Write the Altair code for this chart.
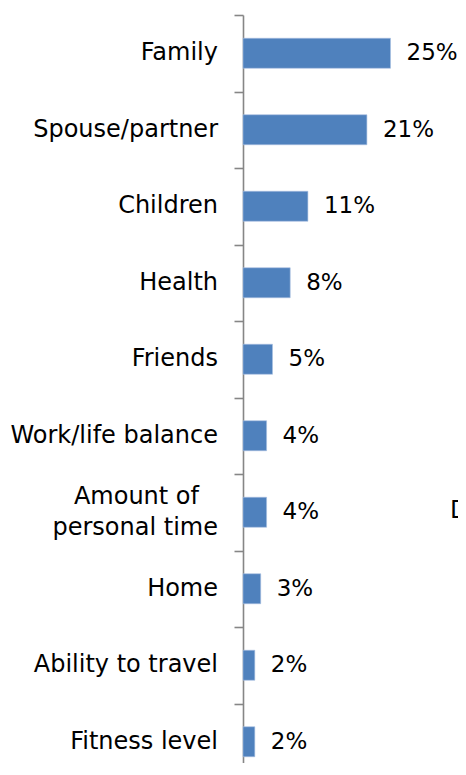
import altair as alt
import pandas as pd

categories = ["Family", "Spouse/partner", "Children", "Health", "Friends",
              "Work/life balance", "Amount of personal time", "Home",
              "Ability to travel", "Fitness level"]
label_line1 = ["Family", "Spouse/partner", "Children", "Health", "Friends",
               "Work/life balance", "Amount of", "Home",
               "Ability to travel", "Fitness level"]
label_line2 = ["", "", "", "", "", "", "personal time", "", "", ""]
values = [25, 21, 11, 8, 5, 4, 4, 3, 2, 2]
labels = [f"{v}%" for v in values]
side_note = ["D"]

df = pd.DataFrame({"cat": categories, "l1": label_line1, "l2": label_line2,
                   "val": values, "lab": labels})
df["two"] = df["l2"] != ""

FONT = "DejaVu Sans"
FS = 24

y = alt.Y("cat:N", sort=categories, title=None,
          scale=alt.Scale(paddingInner=0, paddingOuter=0, range=[0, 765]),
          axis=alt.Axis(domainColor="#868686", tickColor="#868686", tickSize=9,
                        tickBand="extent", domainWidth=1.6, tickWidth=1.6,
                        labels=False))

x = alt.X("val:Q", title=None, axis=None,
          scale=alt.Scale(domain=[0, 215 / 5.9], nice=False))

base = alt.Chart(df)
bars = base.mark_bar(color="#4F81BD", stroke="#A7C0E0", strokeWidth=0.6,
                     height=30).encode(x=x, y=y)
vals = base.mark_text(align="left", baseline="middle", dx=16, font=FONT,
                      fontSize=23, color="#000000").encode(x=x, y=y, text="lab:N")

txt = dict(align="right", baseline="middle", font=FONT, fontSize=FS, color="#000000")
single = base.transform_filter("!datum.two").mark_text(**txt).encode(
    x=alt.value(-25), y=y, text="l1:N")
top_line = base.transform_filter("datum.two").mark_text(dy=-15.5, **txt).encode(
    x=alt.value(-44), y=y, text="l1:N")
bot_line = base.transform_filter("datum.two").mark_text(dy=15.5, **txt).encode(
    x=alt.value(-25), y=y, text="l2:N")

note = alt.Chart(pd.DataFrame({"t": side_note})).mark_text(
    align="left", baseline="middle", font=FONT, fontSize=FS, color="#000000"
).encode(x=alt.value(207), y=alt.value(496), text="t:N")

chart = alt.layer(bars, vals, single, top_line, bot_line, note).properties(
    width=215, height=748,
    autosize=alt.AutoSizeParams(type="none"),
    padding={"left": 235, "top": 7, "right": 0, "bottom": 0}
).configure_view(stroke=None)

chart.save("out.html", embed_options={"renderer": "svg", "actions": False})
